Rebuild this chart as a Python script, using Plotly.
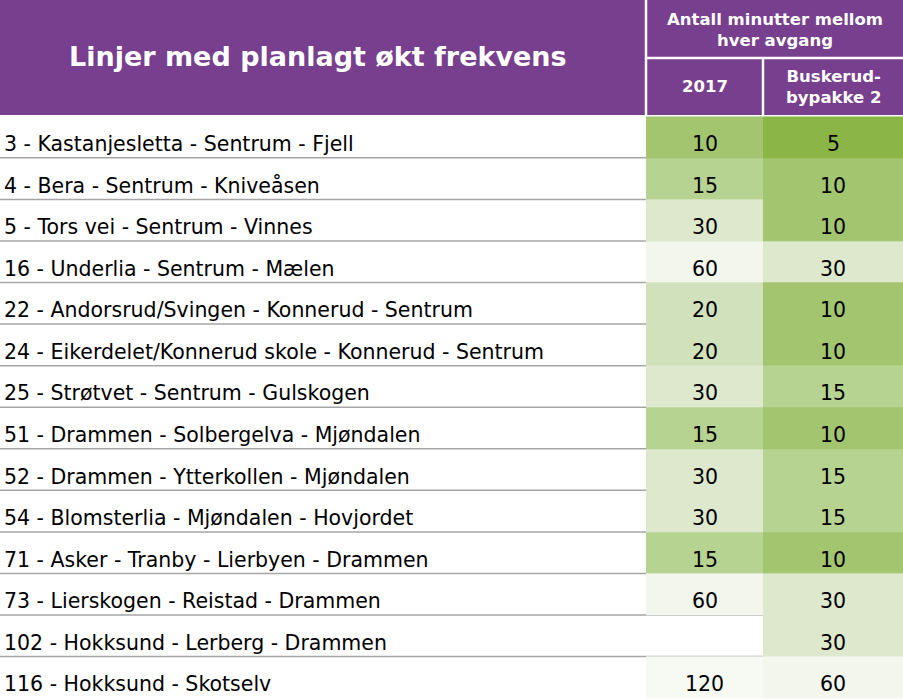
import math
import plotly.graph_objects as go

# ---- data ----
lines = [
    "3 - Kastanjesletta - Sentrum - Fjell",
    "4 - Bera - Sentrum - Kniveåsen",
    "5 - Tors vei - Sentrum - Vinnes",
    "16 - Underlia - Sentrum - Mælen",
    "22 - Andorsrud/Svingen - Konnerud - Sentrum",
    "24 - Eikerdelet/Konnerud skole - Konnerud - Sentrum",
    "25 - Strøtvet - Sentrum - Gulskogen",
    "51 - Drammen - Solbergelva - Mjøndalen",
    "52 - Drammen - Ytterkollen - Mjøndalen",
    "54 - Blomsterlia - Mjøndalen - Hovjordet",
    "71 - Asker - Tranby - Lierbyen - Drammen",
    "73 - Lierskogen - Reistad - Drammen",
    "102 - Hokksund - Lerberg - Drammen",
    "116 - Hokksund - Skotselv",
]
min_2017 = [10, 15, 30, 60, 20, 20, 30, 15, 30, 30, 15, 60, None, 120]
min_bypakke = [5, 10, 10, 30, 10, 10, 15, 10, 15, 15, 10, 30, 30, 60]

title = "Linjer med planlagt økt frekvens"
group_header = "Antall minutter mellom<br>hver avgang"
col_headers = ["2017", "Buskerud-<br>bypakke 2"]

# ---- style ----
W, H = 903, 699
HEADER_H = 116.3
col_edges = [646, 763, 903]
purple = "#783f8e"
font = "DejaVu Sans, Arial, sans-serif"

# green shades: fewer minutes = darker green
shade = {5: "#8bb546", 10: "#a3c56f", 15: "#b6d392", 20: "#d0e1bb",
         30: "#dde8cc", 60: "#f2f6ec", 120: "#f7f9f3"}
lo, hi = math.log(5), math.log(120)
colorscale = [[(math.log(v) - lo) / (hi - lo), c] for v, c in shade.items()]

z = [[None if a is None else math.log(a), math.log(b)]
     for a, b in zip(min_2017, min_bypakke)]

fig = go.Figure()
fig.add_trace(go.Heatmap(
    z=z, x=col_edges, y=list(range(len(lines))),
    colorscale=colorscale, zmin=lo, zmax=hi,
    showscale=False, hoverinfo="skip",
))

n = len(lines)
centers = [(col_edges[0] + col_edges[1]) / 2, (col_edges[1] + col_edges[2]) / 2]
for i, name in enumerate(lines):
    fig.add_annotation(x=2, y=i, text=name, xanchor="left", showarrow=False,
                       yshift=-7, font=dict(size=20.5, color="black", family=font))
    for j, val in enumerate([min_2017[i], min_bypakke[i]]):
        if val is None:
            continue
        fig.add_annotation(x=centers[j], y=i, text=str(val), showarrow=False,
                           yshift=-7, font=dict(size=20.5, color="black", family=font))

# grey row separators (behind the coloured cells)
for i in range(n - 1):
    fig.add_shape(type="line", xref="x", yref="y", x0=0, x1=W, y0=i + 0.5, y1=i + 0.5,
                  line=dict(color="#a6a6a6", width=1.5), layer="below")

# header block
hb = 1 - 115 / H
fig.add_shape(type="rect", xref="paper", yref="paper", x0=0, x1=1, y0=hb, y1=1,
              fillcolor=purple, line_width=0)
mid = 1 - 58 / H
fig.add_shape(type="line", xref="paper", yref="paper",
              x0=col_edges[0] / W, x1=col_edges[0] / W, y0=hb, y1=1,
              line=dict(color="white", width=2.5))
fig.add_shape(type="line", xref="paper", yref="paper",
              x0=col_edges[0] / W, x1=1, y0=mid, y1=mid,
              line=dict(color="white", width=2.5))
fig.add_shape(type="line", xref="paper", yref="paper",
              x0=col_edges[1] / W, x1=col_edges[1] / W, y0=hb, y1=mid,
              line=dict(color="white", width=2.5))

hfont = dict(color="white", family=font)
anch = dict(xref="paper", yref="paper", xanchor="center", yanchor="middle", showarrow=False)
fig.add_annotation(x=318 / W, y=1 - 57 / H, text="<b>%s</b>" % title,
                   font=dict(size=27, **hfont), **anch)
fig.add_annotation(x=(col_edges[0] + W) / 2 / W, y=1 - 30 / H,
                   text="<b>%s</b>" % group_header, font=dict(size=16.5, **hfont), **anch)
for j, lab in enumerate(col_headers):
    fig.add_annotation(x=centers[j] / W, y=1 - 87 / H, text="<b>%s</b>" % lab,
                       font=dict(size=16.5, **hfont), **anch)

fig.update_layout(
    width=W, height=H,
    margin=dict(l=0, r=0, t=0, b=0),
    paper_bgcolor="white", plot_bgcolor="white",
    xaxis=dict(range=[0, W], visible=False, fixedrange=True),
    yaxis=dict(range=[n - 0.48, -0.5], domain=[0, 1 - HEADER_H / H],
               visible=False, fixedrange=True),
    showlegend=False,
)

fig.write_html("out.html", config={"displayModeBar": False},
               post_script="document.body.style.margin='0';")
